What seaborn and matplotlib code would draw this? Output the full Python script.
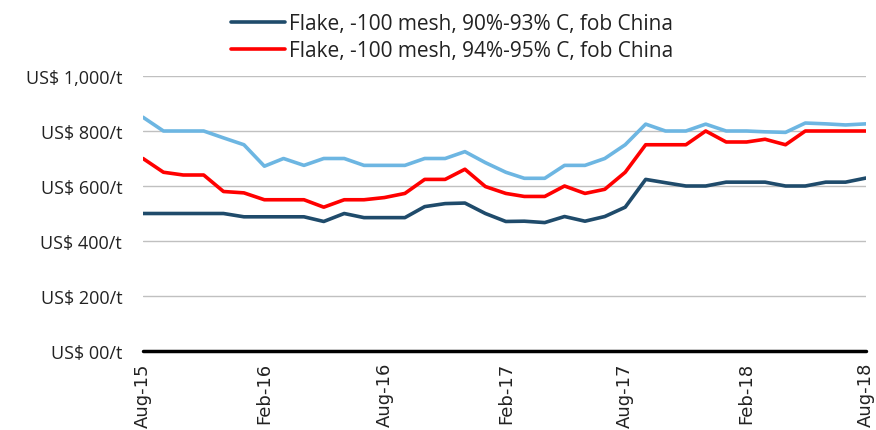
import numpy as np
import pandas as pd
import seaborn as sns
import matplotlib.pyplot as plt
import matplotlib.dates as mdates
from matplotlib.ticker import FixedLocator

# Monthly prices, Aug-15 .. Aug-18 (US$/t)
months = pd.date_range("2015-08-01", periods=37, freq="MS")
flake_90_93 = [500, 500, 500, 500, 500, 488, 488, 488, 488, 471, 500, 485, 485,
               485, 525, 536, 538, 500, 471, 472, 467, 489, 472, 489, 523, 624,
               612, 600, 600, 614, 614, 614, 600, 600, 614, 614, 629]
flake_94_95 = [700, 650, 640, 640, 580, 575, 550, 550, 550, 523, 550, 550, 558,
               573, 624, 624, 661, 598, 573, 562, 562, 600, 573, 588, 650, 750,
               750, 750, 800, 760, 760, 770, 750, 800, 800, 800, 800]
flake_top = [850, 800, 800, 800, 775, 750, 672, 700, 675, 700, 700, 675, 675,
             675, 700, 700, 725, 685, 650, 628, 628, 675, 675, 700, 750, 825,
             800, 800, 825, 800, 800, 797, 795, 829, 826, 822, 826]

names = ["Flake, -100 mesh, 90%-93% C, fob China",
         "Flake, -100 mesh, 94%-95% C, fob China",
         "Flake, +100 mesh, 94%-95% C, fob China"]
colors = ["#1f4b6b", "#ff0000", "#6db6e2"]

y_ticks = [0, 200, 400, 600, 800, 1000]
y_labels = ["US$ 00/t", "US$ 200/t", "US$ 400/t", "US$ 600/t", "US$ 800/t", "US$ 1,000/t"]

df = pd.DataFrame({"date": months, names[0]: flake_90_93,
                   names[1]: flake_94_95, names[2]: flake_top})
long = df.melt(id_vars="date", var_name="series", value_name="price")

sns.set_style("white")
fig = plt.figure(figsize=(8.76, 4.31), dpi=100)
ax = fig.add_axes([143 / 876, 1 - 352 / 431, (866 - 143) / 876, (352 - 77) / 431])

sns.lineplot(data=long, x="date", y="price", hue="series", hue_order=names,
             palette=colors, linewidth=2.6, ax=ax, legend=True)

ax.set_ylim(0, 1000)
ax.set_xlim(months[0], months[-1])
ax.yaxis.set_major_locator(FixedLocator(y_ticks))
ax.set_yticklabels(y_labels, fontsize=13, family="Open Sans", color="#222222")
ax.grid(axis="y", color="#c0c0c0", linewidth=1)
ax.axhline(0, color="black", linewidth=2.5, clip_on=False)
ax.set_axisbelow(True)

ax.xaxis.set_major_locator(mdates.MonthLocator(bymonth=[2, 8]))
ax.xaxis.set_major_formatter(mdates.DateFormatter("%b-%y"))
plt.setp(ax.get_xticklabels(), rotation=90, fontsize=13, family="DejaVu Sans",
         color="#222222")
ax.tick_params(axis="both", length=0)
ax.tick_params(axis="y", pad=15)
ax.tick_params(axis="x", pad=8)
ax.set_xlabel("")
ax.set_ylabel("")
sns.despine(ax=ax, left=True, bottom=True)

handles, labels = ax.get_legend_handles_labels()
ax.get_legend().remove()
fig.legend(handles[:2], labels[:2], loc="upper left", bbox_to_anchor=(231 / 876, 0.968),
           frameon=False, prop={"family": "Open Sans", "size": 15},
           labelcolor="#222222", handlelength=2.6, handletextpad=0.2,
           labelspacing=0.3, borderaxespad=0, borderpad=0)

fig.savefig("out.png", dpi=100)
